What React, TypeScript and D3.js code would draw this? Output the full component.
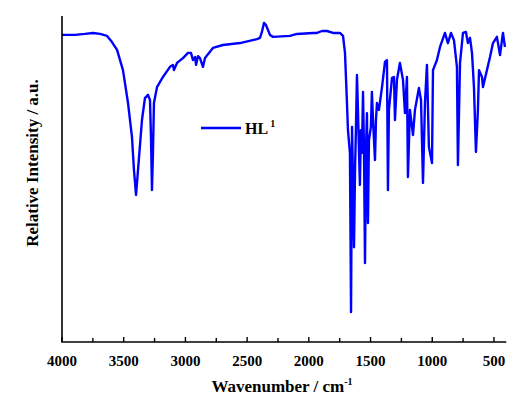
import React from "react";
import * as d3 from "d3";

const wavenumbers: number[] = [
  4000, 3895, 3814, 3749, 3692, 3635, 3595, 3554, 3506, 3465, 3433, 3417, 3400, 3384, 3352, 3328, 3303, 3287, 3279, 3271,
  3263, 3255, 3230, 3182, 3125, 3101, 3093, 3068, 3020, 2979, 2955, 2939, 2922, 2914, 2898, 2882, 2858, 2841, 2817, 2777,
  2696, 2558, 2420, 2396, 2380, 2363, 2347, 2331, 2315, 2290, 2153, 2096, 1966, 1934, 1893, 1853, 1804, 1748, 1723, 1707,
  1691, 1683, 1667, 1658, 1650, 1642, 1634, 1626, 1618, 1610, 1602, 1594, 1586, 1578, 1570, 1561, 1553, 1545, 1537, 1529, 1521, 1513,
  1497, 1489, 1480, 1464, 1456, 1448, 1432, 1407, 1383, 1367, 1359, 1351, 1326, 1310, 1302, 1286, 1262, 1237, 1221, 1205, 1197,
  1181, 1156, 1140, 1108, 1091, 1075, 1059, 1043, 1027, 1002, 994, 962, 937, 897, 873, 848, 824, 800, 792, 775,
  751, 727, 711, 694, 678, 662, 646, 630, 621, 597, 589, 557, 532, 508, 476, 451, 435, 427, 411,
];

const intensity: number[] = [
  94.2, 94.2, 94.5, 94.8, 94.5, 93.9, 92.0, 89.6, 83.4, 73.3, 62.9, 52.8, 45.1, 52.8, 68.1, 74.8, 75.8, 74.2, 62.9, 46.6,
  58.0, 73.3, 78.2, 81.3, 84.4, 85.0, 83.4, 85.6, 87.1, 88.7, 88.7, 86.5, 87.4, 85.0, 87.7, 87.1, 84.4, 87.1, 88.3, 90.2,
  91.1, 91.7, 92.9, 93.3, 95.1, 97.9, 97.2, 95.7, 94.2, 93.6, 93.9, 94.5, 94.8, 94.8, 95.4, 95.4, 94.8, 94.8, 93.9, 88.7,
  73.3, 65.0, 58.0, 9.2, 66.0, 49.7, 29.1, 52.0, 66.0, 81.9, 71.2, 58.9, 48.2, 65.0, 58.0, 76.7, 58.9, 24.2, 58.9, 70.2, 36.5, 61.9,
  66.0, 76.7, 68.1, 55.8, 68.1, 73.3, 71.2, 78.2, 85.9, 86.5, 46.6, 71.2, 81.0, 81.3, 68.1, 80.4, 85.6, 80.4, 70.2, 81.3, 50.6,
  71.2, 63.5, 71.2, 77.9, 74.2, 48.8, 73.3, 85.0, 59.8, 54.9, 83.4, 86.5, 90.5, 94.8, 91.7, 94.8, 92.6, 84.4, 54.3, 85.6,
  94.8, 95.1, 91.7, 93.3, 88.7, 78.2, 58.3, 71.2, 83.4, 81.3, 78.2, 83.4, 87.4, 91.7, 93.6, 88.0, 92.6, 94.8, 90.5,
];

const xTicks: number[] = [4000, 3500, 3000, 2500, 2000, 1500, 1000, 500];
const xMinorTicks: number[] = [3750, 3250, 2750, 2250, 1750, 1250, 750];
const xTitle = "Wavenumber / cm";
const yTitle = "Relative Intensity / a.u.";
const legendLabel = "HL";

const W = 509;
const H = 400;
const left = 62;
const right = 506.3;
const top = 16;
const bottom = 342;

const FONT = "Liberation Serif";

export default function App() {
  const x = d3.scaleLinear().domain([4000, 400]).range([left, right]);
  const y = d3.scaleLinear().domain([0, 100]).range([bottom, top]);
  const data = wavenumbers.map((w, i) => [w, intensity[i]] as [number, number]);
  const line = d3
    .line<[number, number]>()
    .x((d) => x(d[0]))
    .y((d) => y(d[1]))
    .curve(d3.curveLinear);
  return (
    <svg width={W} height={H} style={{ position: "absolute", left: 0, top: 0, background: "#fff" }}>
      <rect x={0} y={0} width={W} height={H} fill="#fff" />
      <path d={line(data) || ""} fill="none" stroke="#0000FF" strokeWidth={2.4} strokeLinejoin="round" />
      <line x1={left} x2={left} y1={top} y2={bottom} stroke="#000" strokeWidth={1.6} />
      <line x1={left - 0.8} x2={right} y1={bottom} y2={bottom} stroke="#000" strokeWidth={1.6} />
      {xTicks.map((t) => (
        <g key={t}>
          <line x1={x(t)} x2={x(t)} y1={bottom} y2={bottom - 5} stroke="#000" strokeWidth={1.4} />
          <text x={x(t)} y={366} textAnchor="middle" fontSize={15} fontFamily={FONT} fontWeight="bold" fill="#000">
            {t}
          </text>
        </g>
      ))}
      {xMinorTicks.map((t) => (
        <line key={t} x1={x(t)} x2={x(t)} y1={bottom} y2={bottom - 4} stroke="#000" strokeWidth={1.4} />
      ))}
      <text x={282} y={392} textAnchor="middle" fontSize={17} fontFamily={FONT} fontWeight="bold" fill="#000">
        {xTitle}
        <tspan fontSize={10} dy={-7}>-1</tspan>
      </text>
      <text
        transform="translate(38,163) rotate(-90)"
        textAnchor="middle"
        fontSize={17}
        fontFamily={FONT}
        fontWeight="bold"
        fill="#000"
      >
        {yTitle}
      </text>
      <line x1={201} x2={241} y1={128} y2={128} stroke="#0000FF" strokeWidth={2.4} />
      <text x={245} y={134} fontSize={16} fontFamily={FONT} fontWeight="bold" fill="#000">
        {legendLabel}
        <tspan fontSize={10} dy={-7} dx={2}>1</tspan>
      </text>
    </svg>
  );
}
